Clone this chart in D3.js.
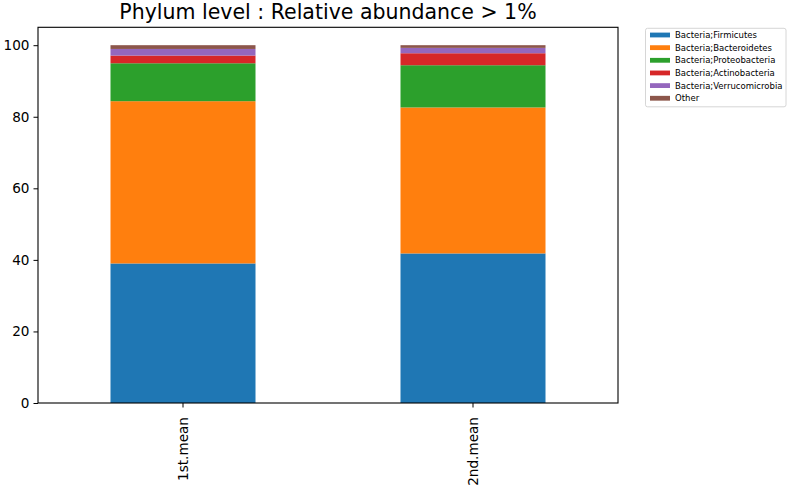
<!DOCTYPE html>
<html><head><meta charset="utf-8">
<script src="https://cdn.jsdelivr.net/npm/d3@7/dist/d3.min.js"></script>
<style>body{margin:0;background:#fff;} svg{display:block;font-family:"DejaVu Sans",sans-serif;}</style>
</head><body><svg id="chart" width="790" height="486"></svg>
<script>
const categories = ["1st.mean", "2nd.mean"];
const seriesNames = ["Bacteria;Firmicutes", "Bacteria;Bacteroidetes", "Bacteria;Proteobacteria", "Bacteria;Actinobacteria", "Bacteria;Verrucomicrobia", "Other"];
const firmicutes = [39.0, 41.8];
const bacteroidetes = [45.35, 40.8];
const proteobacteria = [10.6, 11.8];
const actinobacteria = [2.15, 3.35];
const verrucomicrobia = [1.85, 1.5];
const other = [1.05, 0.75];
const yTicks = [0, 20, 40, 60, 80, 100];
const colors = ["#1f77b4", "#ff7f0e", "#2ca02c", "#d62728", "#9467bd", "#8c564b"];
const titleText = "Phylum level : Relative abundance > 1%";

const seriesValues = [firmicutes, bacteroidetes, proteobacteria, actinobacteria, verrucomicrobia, other];
const rows = categories.map((c, i) => {
  const r = {cat: c};
  seriesNames.forEach((s, j) => r[s] = seriesValues[j][i]);
  return r;
});
const stacked = d3.stack().keys(seriesNames)(rows);

const svg = d3.select("#chart");
const m = {left: 38, right: 618, top: 27.3, bottom: 403};
const x = d3.scaleBand().domain(categories).range([m.left, m.right]).paddingInner(0.5).paddingOuter(0.25);
const y = d3.scaleLinear().domain([0, 105]).range([m.bottom, m.top]);

const g = svg.append("g");
stacked.forEach((layer, j) => {
  g.selectAll(null).data(layer).enter().append("rect")
    .attr("x", d => x(d.data.cat))
    .attr("width", x.bandwidth())
    .attr("y", d => y(d[1]))
    .attr("height", d => y(d[0]) - y(d[1]))
    .attr("fill", colors[j]);
});

// frame
svg.append("rect").attr("x", m.left).attr("y", m.top).attr("width", m.right - m.left).attr("height", m.bottom - m.top)
  .attr("fill", "none").attr("stroke", "#000").attr("stroke-width", 1.1);

const yAxis = svg.append("g").attr("transform", `translate(${m.left},0)`)
  .call(d3.axisLeft(y).tickValues(yTicks).tickSize(4.5).tickPadding(4).tickFormat(d3.format("d")));
yAxis.select(".domain").remove();
yAxis.selectAll("text").attr("font-size", 13.6).attr("font-family", "DejaVu Sans").attr("fill", "#000");
yAxis.selectAll("line").attr("stroke", "#000").attr("stroke-width", 1);

const xAxis = svg.append("g").attr("transform", `translate(0,${m.bottom})`)
  .call(d3.axisBottom(x).tickSize(4.5).tickPadding(4));
xAxis.select(".domain").remove();
xAxis.selectAll("line").attr("stroke", "#000").attr("stroke-width", 1);
xAxis.selectAll("text").attr("font-size", 13.6).attr("font-family", "DejaVu Sans").attr("fill", "#000")
  .attr("transform", "rotate(-90)").attr("text-anchor", "end").attr("dx", "-0.7em").attr("dy", "0.35em").attr("y", 0).attr("x", -4.5);

svg.append("text").attr("x", (m.left + m.right) / 2).attr("y", 18.5).attr("text-anchor", "middle")
  .attr("font-size", 20.5).attr("fill", "#000").text(titleText);

// legend
const lg = svg.append("g");
lg.append("rect").attr("x", 645.5).attr("y", 28.3).attr("width", 140.5).attr("height", 78.5)
  .attr("fill", "#fff").attr("stroke", "#ccc").attr("stroke-width", 0.8).attr("rx", 2);
seriesNames.forEach((s, i) => {
  const cy = 35 + i * 12.65;
  lg.append("rect").attr("x", 650).attr("y", cy - 2.4).attr("width", 20).attr("height", 4.8).attr("fill", colors[i]);
  lg.append("text").attr("x", 675).attr("y", cy).attr("dy", "0.35em").attr("font-size", 8.5).attr("fill", "#000").text(s);
});
</script></body></html>
